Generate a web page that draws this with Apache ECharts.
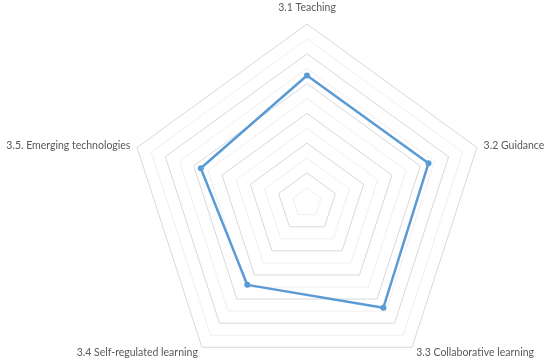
<!DOCTYPE html>
<html>
<head>
<meta charset="utf-8">
<script src="https://cdn.jsdelivr.net/npm/echarts@6/dist/echarts.min.js"></script>
<style>
html,body{margin:0;padding:0;background:#fff;}
#chart{width:550px;height:362px;}
</style>
</head>
<body>
<div id="chart"></div>
<script>
// categories in clockwise order starting at the top
var categories = ['3.1 Teaching', '3.2 Guidance', '3.3 Collaborative learning', '3.4 Self-regulated learning', '3.5. Emerging technologies'];
var values = [4.27, 4.29, 4.36, 3.41, 3.75];
var axisMax = 6;

// ECharts radar places indicators counter-clockwise; reorder so the drawing runs clockwise
var order = [0, 4, 3, 2, 1];
var indicator = order.map(function (i) { return {name: categories[i], max: axisMax, min: 0}; });
var seriesValues = order.map(function (i) { return values[i]; });

var chart = echarts.init(document.getElementById('chart'), null, {renderer: 'canvas'});
chart.setOption({
  animation: false,
  backgroundColor: '#ffffff',
  radar: {
    center: [307, 202.7],
    radius: 178.7,
    startAngle: 90,
    shape: 'polygon',
    splitNumber: 12,
    indicator: indicator,
    axisName: {
      color: '#595959',
      fontFamily: 'Lato',
      fontSize: 10.5,
      formatter: function (name) {
        return name === categories[0] ? '{t|' + name + '}' : name;
      },
      rich: {
        t: {color: '#595959', fontFamily: 'Lato', fontSize: 10.5, padding: [0, 0, 4, 0]}
      }
    },
    nameGap: 7,
    axisLine: {show: false},
    splitArea: {show: false},
    splitLine: {lineStyle: {color: ['#d9d9d9', '#efefef'], width: 1}}
  },
  series: [{
    type: 'radar',
    symbol: 'circle',
    symbolSize: 6,
    lineStyle: {color: '#5b9bd5', width: 2.5},
    itemStyle: {color: '#5b9bd5'},
    data: [{value: seriesValues, name: 'score'}]
  }]
});
</script>
</body>
</html>
